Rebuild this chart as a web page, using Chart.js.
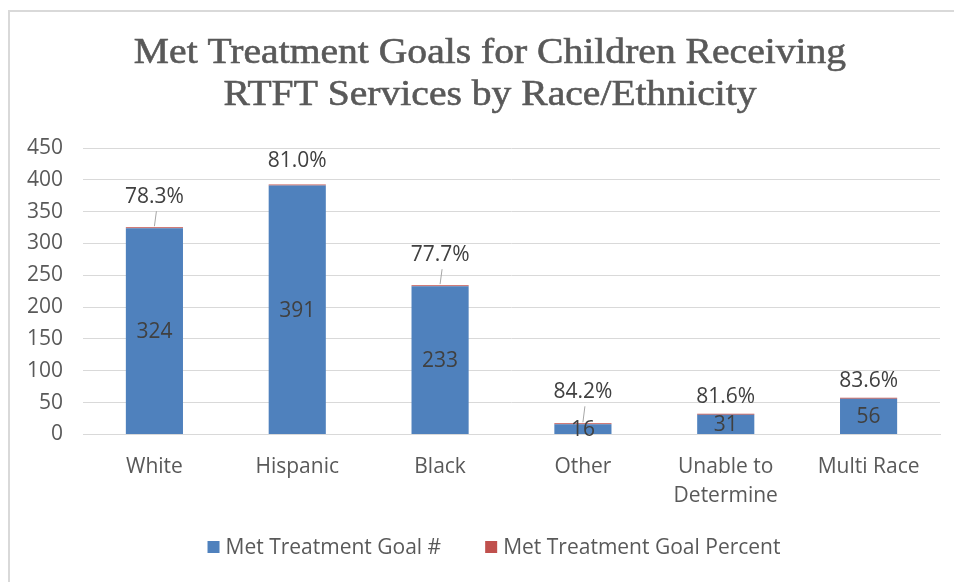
<!DOCTYPE html>
<html>
<head>
<meta charset="utf-8">
<script src="https://cdn.jsdelivr.net/npm/chart.js@4/dist/chart.umd.min.js"></script>
<style>
  html, body { margin: 0; padding: 0; background: #ffffff; overflow: hidden; width: 954px; height: 582px; }
  #frame { position: absolute; left: 8px; top: 10px; width: 970px; height: 570px;
           border-left: 2px solid #d9d9d9; border-top: 2px solid #d9d9d9; }
  canvas { display: block; }
</style>
</head>
<body>
<div id="frame">
  <canvas id="c" width="970" height="570"></canvas>
</div>
<script>
// Children who met their treatment goals, by race/ethnicity
const titleLines = ['Met Treatment Goals for Children Receiving', 'RTFT Services by Race/Ethnicity'];
const categories = ['White', 'Hispanic', 'Black', 'Other', ['Unable to', 'Determine'], 'Multi Race'];
const metGoalCounts = [324, 391, 233, 16, 31, 56];
const metGoalPercents = [78.3, 81.0, 77.7, 84.2, 81.6, 83.6];
const yTicks = [0, 50, 100, 150, 200, 250, 300, 350, 400, 450];

const textGrey = '#595959';
const labelDark = '#404040';
const sansFont = "'Open Sans', 'Liberation Sans', sans-serif";
const serifFont = "'Liberation Serif', 'DejaVu Serif', serif";

// Two-line heading above the plot, set in a slightly widened serif
const heading = {
  id: 'heading',
  afterDraw(chart, args, opts) {
    const ctx = chart.ctx;
    ctx.save();
    ctx.font = opts.size + 'px ' + serifFont;
    ctx.textAlign = 'center';
    ctx.textBaseline = 'alphabetic';
    ctx.fillStyle = textGrey;
    ctx.strokeStyle = textGrey;
    ctx.lineWidth = opts.weight;
    ctx.translate(opts.x, 0);
    ctx.scale(opts.stretch, 1);
    titleLines.forEach((line, i) => {
      const y = opts.baseline + i * opts.lineGap;
      ctx.fillText(line, 0, y);
      ctx.strokeText(line, 0, y);
    });
    ctx.restore();
  }
};

// Value labels: counts inside the blue bars, percents above the stack with a leader line
const barLabels = {
  id: 'barLabels',
  afterDatasetsDraw(chart, args, opts) {
    const ctx = chart.ctx;
    const countMeta = chart.getDatasetMeta(0);
    const pctMeta = chart.getDatasetMeta(1);
    ctx.save();
    ctx.font = '21px ' + sansFont;
    ctx.textAlign = 'center';
    ctx.textBaseline = 'middle';
    countMeta.data.forEach((bar, i) => {
      const props = bar.getProps(['x', 'y', 'base'], true);
      ctx.fillStyle = labelDark;
      ctx.fillText(String(metGoalCounts[i]), props.x, (props.y + props.base) / 2 + 1);
    });
    pctMeta.data.forEach((bar, i) => {
      const props = bar.getProps(['x', 'y'], true);
      const lift = opts.lift[i];
      const ly = props.y - lift;
      if (lift > 26) {
        ctx.strokeStyle = '#a6a6a6';
        ctx.lineWidth = 1;
        ctx.beginPath();
        ctx.moveTo(props.x + 2, ly + 14);
        ctx.lineTo(props.x, props.y - 1);
        ctx.stroke();
      }
      ctx.fillStyle = labelDark;
      ctx.fillText(metGoalPercents[i].toFixed(1) + '%', props.x, ly);
    });
    ctx.restore();
  }
};

// Legend row under the axis: coloured squares with the series names
const bottomLegend = {
  id: 'bottomLegend',
  afterDraw(chart, args, opts) {
    const ctx = chart.ctx;
    ctx.save();
    ctx.font = opts.fontSize + 'px ' + sansFont;
    ctx.textBaseline = 'middle';
    ctx.textAlign = 'left';
    const items = chart.data.datasets.map(ds => ({
      text: ds.label,
      color: ds.backgroundColor,
      w: opts.box + opts.boxGap + ctx.measureText(ds.label).width
    }));
    const total = items.reduce((s, it) => s + it.w, 0) + opts.itemGap * (items.length - 1);
    let x = opts.x - total / 2;
    const y = opts.y;
    items.forEach(it => {
      ctx.fillStyle = it.color;
      ctx.fillRect(x, y - opts.box / 2, opts.box, opts.box);
      ctx.fillStyle = textGrey;
      ctx.fillText(it.text, x + opts.box + opts.boxGap, y + 1);
      x += it.w + opts.itemGap;
    });
    ctx.restore();
  }
};

new Chart(document.getElementById('c'), {
  type: 'bar',
  data: {
    labels: categories,
    datasets: [
      {
        label: 'Met Treatment Goal #',
        data: metGoalCounts,
        backgroundColor: '#4f81bd',
        stack: 's'
      },
      {
        label: 'Met Treatment Goal Percent',
        data: metGoalPercents.map(p => p / 100),
        backgroundColor: '#c0504d',
        minBarLength: 1,
        stack: 's'
      }
    ]
  },
  options: {
    responsive: false,
    animation: false,
    devicePixelRatio: 1,
    layout: { padding: { left: 0, right: 40, top: 136, bottom: 52.5 } },
    datasets: { bar: { categoryPercentage: 1.0, barPercentage: 0.4 } },
    scales: {
      x: {
        stacked: true,
        grid: { display: false, drawTicks: false },
        border: { display: true, color: '#d9d9d9', width: 1 },
        ticks: { color: textGrey, font: { family: sansFont, size: 21, lineHeight: 1.381 }, padding: 18.5, maxRotation: 0 }
      },
      y: {
        stacked: true,
        min: 0,
        max: 450,
        afterBuildTicks(scale) { scale.ticks = yTicks.map(v => ({ value: v })); },
        afterFit(scale) { scale.width = 73; },
        grid: { color: '#d9d9d9', lineWidth: 1, drawTicks: false },
        border: { display: false },
        ticks: { color: textGrey, font: { family: sansFont, size: 21 }, padding: 20 }
      }
    },
    plugins: {
      title: { display: false },
      legend: { display: false },
      tooltip: { enabled: false },
      heading: { x: 480, baseline: 51, lineGap: 42, size: 36, stretch: 1.1, weight: 0.6 },
      barLabels: { lift: [30, 24, 30, 31, 17, 17] },
      bottomLegend: { x: 484, y: 535, fontSize: 21, box: 12, boxGap: 6, itemGap: 44 }
    }
  },
  plugins: [heading, barLabels, bottomLegend]
});
</script>
</body>
</html>
